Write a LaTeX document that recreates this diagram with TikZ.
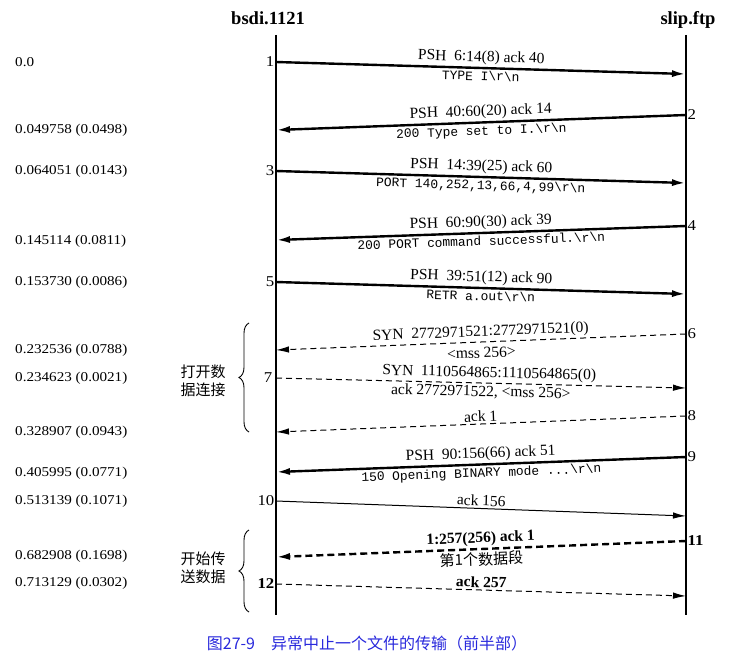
\documentclass[tikz,border=0pt]{standalone}
\usepackage{fontspec}
\setmainfont{Liberation Serif}
\setmonofont{Liberation Mono}
\newfontfamily\cjk{Noto Sans CJK SC}
\newfontfamily\widefont{Liberation Serif}[FakeStretch=1.12]
\usetikzlibrary{arrows.meta,decorations.pathreplacing}
\definecolor{capblue}{RGB}{40,40,220}
\newcommand{\crlf}{\textbackslash r\textbackslash n}

\begin{document}
\begin{tikzpicture}[
  x=1pt, y=-1pt,
  font=\fontsize{15.5}{17}\selectfont,
  host/.style={anchor=base, font=\fontsize{18.5}{20}\selectfont\bfseries},
  time/.style={anchor=west, inner sep=0pt, font=\fontsize{13.5}{15}\selectfont\widefont},
  num/.style={inner sep=1.5pt, font=\fontsize{15}{16}\selectfont\widefont},
  lbl/.style={sloped, inner sep=2pt},
  mono/.style={sloped, inner sep=2pt, font=\fontsize{12.9}{14}\selectfont\ttfamily},
  cjktext/.style={align=center, font=\fontsize{15}{18}\selectfont\cjk},
  life/.style={line width=1.2pt},
  seg/.style={-{Latex[length=14pt,width=7pt]}, line width=2.4pt},
  thinseg/.style={-{Latex[length=13pt,width=6.5pt]}, line width=1pt},
  dashseg/.style={-{Latex[length=13pt,width=6.5pt]}, line width=1pt,
                  dash pattern=on 6pt off 4pt},
  bigdash/.style={-{Latex[length=14pt,width=7pt]}, line width=2.4pt,
                  dash pattern=on 7pt off 4pt},
  brace/.style={decorate, decoration={brace, amplitude=10pt}, line width=0.9pt}
]
\useasboundingbox (0,0) rectangle (731,669);

% hosts and life lines
\node[host] (bsdi) at (268,25) {bsdi.1121};
\node[host] (slip) at (688,25) {slip.ftp};
\coordinate (ltop) at (276,35);
\coordinate (lbot) at (276,615);
\coordinate (rtop) at (686,35);
\coordinate (rbot) at (686,615);
\draw[life] (ltop) -- (lbot);
\draw[life] (rtop) -- (rbot);

% segment end points
\coordinate (a1) at (276,62);   \coordinate (b1) at (686,74);
\coordinate (b2) at (686,115);  \coordinate (a2) at (276,130);
\coordinate (a3) at (276,171);  \coordinate (b3) at (686,183);
\coordinate (b4) at (686,226);  \coordinate (a4) at (276,240);
\coordinate (a5) at (276,282);  \coordinate (b5) at (686,294);
\coordinate (b6) at (686,334);  \coordinate (a6) at (276,350);
\coordinate (a7) at (276,378);  \coordinate (b7) at (686,388);
\coordinate (b8) at (686,416);  \coordinate (a8) at (276,432);
\coordinate (b9) at (686,457);  \coordinate (a9) at (276,472);
\coordinate (a10) at (276,501); \coordinate (b10) at (686,516);
\coordinate (b11) at (686,541); \coordinate (a11) at (276,557);
\coordinate (a12) at (276,584); \coordinate (b12) at (686,596);

% segment numbers
\node[num, left] (n1) at (a1) {1};
\node[num, right] (n2) at (b2) {2};
\node[num, left] (n3) at (a3) {3};
\node[num, right] (n4) at (b4) {4};
\node[num, left] (n5) at (a5) {5};
\node[num, right] (n6) at (b6) {6};
\node[num, left, xshift=-2pt] (n7) at (a7) {7};
\node[num, right] (n8) at (b8) {8};
\node[num, right] (n9) at (b9) {9};
\node[num, left] (n10) at (a10) {10};
\node[num, right, font=\fontsize{15}{16}\selectfont\widefont\bfseries] (n11) at (b11) {11};
\node[num, left, font=\fontsize{15}{16}\selectfont\widefont\bfseries] (n12) at (a12) {12};

% time stamps
\node[time] (t1) at (15,62) {0.0};
\node[time] (t2) at (15,130) {0.049758 (0.0498)};
\node[time] (t3) at (15,171) {0.064051 (0.0143)};
\node[time] (t4) at (15,241) {0.145114 (0.0811)};
\node[time] (t5) at (15,282) {0.153730 (0.0086)};
\node[time] (t6) at (15,350) {0.232536 (0.0788)};
\node[time] (t7) at (15,378) {0.234623 (0.0021)};
\node[time] (t8) at (15,432) {0.328907 (0.0943)};
\node[time] (t9) at (15,473) {0.405995 (0.0771)};
\node[time] (t10) at (15,501) {0.513139 (0.1071)};
\node[time] (t11) at (15,556) {0.682908 (0.1698)};
\node[time] (t12) at (15,583) {0.713129 (0.0302)};

% segments
\draw[seg] (a1) -- node[lbl, above] (p1) {PSH\enspace6:14(8) ack 40}
  node[mono, below] (q1) {TYPE I\crlf} (b1);
\draw[seg] (b2) -- node[lbl, above] (p2) {PSH\enspace40:60(20) ack 14}
  node[mono, below] (q2) {200 Type set to I.\crlf} (a2);
\draw[seg] (a3) -- node[lbl, above] (p3) {PSH\enspace14:39(25) ack 60}
  node[mono, below] (q3) {PORT 140,252,13,66,4,99\crlf} (b3);
\draw[seg] (b4) -- node[lbl, above] (p4) {PSH\enspace60:90(30) ack 39}
  node[mono, below] (q4) {200 PORT command successful.\crlf} (a4);
\draw[seg] (a5) -- node[lbl, above] (p5) {PSH\enspace39:51(12) ack 90}
  node[mono, below] (q5) {RETR a.out\crlf} (b5);
\draw[dashseg] (b6) -- node[lbl, above] (p6) {SYN\enspace2772971521:2772971521(0)}
  node[lbl, below=3pt] (q6) {<mss 256>} (a6);
\draw[dashseg] (a7) -- node[lbl, above, xshift=8pt] (p7) {SYN\enspace1110564865:1110564865(0)}
  node[lbl, below] (q7) {ack 2772971522, <mss 256>} (b7);
\draw[dashseg] (b8) -- node[lbl, above] (p8) {ack 1} (a8);
\draw[seg] (b9) -- node[lbl, above] (p9) {PSH\enspace90:156(66) ack 51}
  node[mono, below] (q9) {150 Opening BINARY mode ...\crlf} (a9);
\draw[thinseg] (a10) -- node[lbl, above] (p10) {ack 156} (b10);
\draw[bigdash] (b11) -- node[lbl, above, font=\fontsize{15.5}{17}\selectfont\bfseries] (p11) {1:257(256) ack 1}
  node[lbl, below, font=\fontsize{15}{17}\selectfont\cjk] (q11) {第1个数据段} (a11);
\draw[dashseg] (a12) -- node[lbl, above, font=\fontsize{15.5}{17}\selectfont\bfseries] (p12) {ack 257} (b12);

% phases
\draw[brace] (249,432) -- (249,323);
\node[cjktext] (open) at (203,381) {打开数\\据连接};
\draw[brace] (249,612) -- (249,530);
\node[cjktext] (start) at (203,568) {开始传\\送数据};

% caption
\node[font=\fontsize{16}{18}\selectfont\cjk, text=capblue] (cap) at (367,643)
  {图27-9\quad 异常中止一个文件的传输（前半部）};
\end{tikzpicture}
\end{document}
